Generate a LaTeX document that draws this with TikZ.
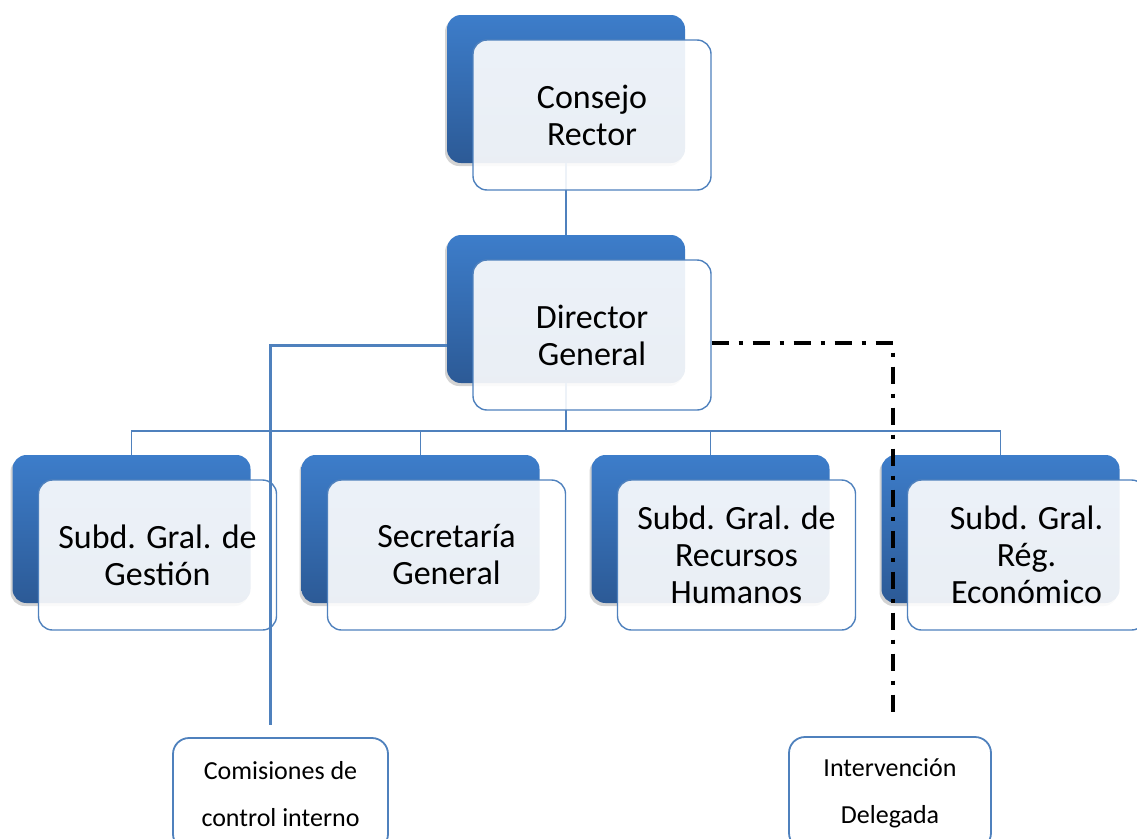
\documentclass[tikz,border=0pt]{standalone}
\usepackage{fontspec}
\setmainfont{Carlito}
\usetikzlibrary{shadows}
\definecolor{boxtop}{HTML}{3D7DCA}
\definecolor{boxbot}{HTML}{2C5A96}
\definecolor{edge}{HTML}{4F81BD}
\tikzset{
  bluebox/.style={rounded corners=14pt, top color=boxtop, bottom color=boxbot, draw=none,
    minimum width=238pt, minimum height=148pt, inner sep=0pt,
    drop shadow={shadow xshift=-2pt, shadow yshift=-3pt, opacity=0.35}},
  lightbox/.style={rounded corners=14pt, fill=white, fill opacity=0.9, text opacity=1,
    draw=edge, draw opacity=1, line width=1.4pt, minimum width=238pt, minimum height=150pt,
    inner sep=0pt, align=center, font=\fontsize{34}{37}\selectfont},
  smallbox/.style={rounded corners=16pt, fill=white, draw=edge, line width=1.8pt,
    inner sep=0pt, align=center, font=\fontsize{26}{47}\selectfont},
  conn/.style={draw=edge, line width=1.5pt},
  thickconn/.style={draw=edge, line width=3pt},
  dashconn/.style={draw=black, line width=3.5pt, dash pattern=on 17pt off 10pt on 4pt off 10pt}
}
\begin{document}
\begin{tikzpicture}[x=1pt,y=-1pt]
\useasboundingbox (0,0) rectangle (1137,838);
% blue boxes
\node[bluebox] (crB) at (566,89) {};
\node[bluebox] (dgB) at (566,309) {};
\node[bluebox] (b1B) at (131.5,529) {};
\node[bluebox] (b2B) at (420.5,529) {};
\node[bluebox] (b3B) at (710.5,529) {};
\node[bluebox] (b4B) at (1000.5,529) {};
% coordinates
\coordinate (bus) at (566,431);
\coordinate (cend) at (270,725);
\coordinate (iend) at (893,720);
% connectors under light boxes
\draw[conn] (crB.south) -- (dgB.north);
\draw[conn] (dgB.south) -- (bus);
\draw[conn] (b1B.north) -- (b1B.north |- bus) -- (b4B.north |- bus) -- (b4B.north);
\draw[conn] (b2B.north) -- (b2B.north |- bus);
\draw[conn] (b3B.north) -- (b3B.north |- bus);
% light boxes
\node[lightbox] (cr) at (592,115) {Consejo\\Rector};
\node[lightbox] (dg) at (592,335) {Director\\General};
\node[lightbox] (b1) at (157.5,555) {Subd. Gral. de\\Gestión};
\node[lightbox] (b2) at (446.5,555) {Secretaría\\General};
\node[lightbox] (b3) at (736.5,555) {Subd. Gral. de\\Recursos\\Humanos};
\node[lightbox] (b4) at (1026.5,555) {Subd. Gral.\\Rég.\\Económico};
% bottom boxes
\node[smallbox, minimum width=215pt, minimum height=112pt] (com) at (280.5,794) {Comisiones de\\control interno};
\node[smallbox, minimum width=202pt, minimum height=112pt] (int) at (890,793) {Intervención\\Delegada};
% overlay connectors
\draw[thickconn] ([yshift=-36pt]dgB.west) -| (cend);
\draw[dashconn] ([yshift=-8pt]dg.east) -| (iend);
\end{tikzpicture}
\end{document}
